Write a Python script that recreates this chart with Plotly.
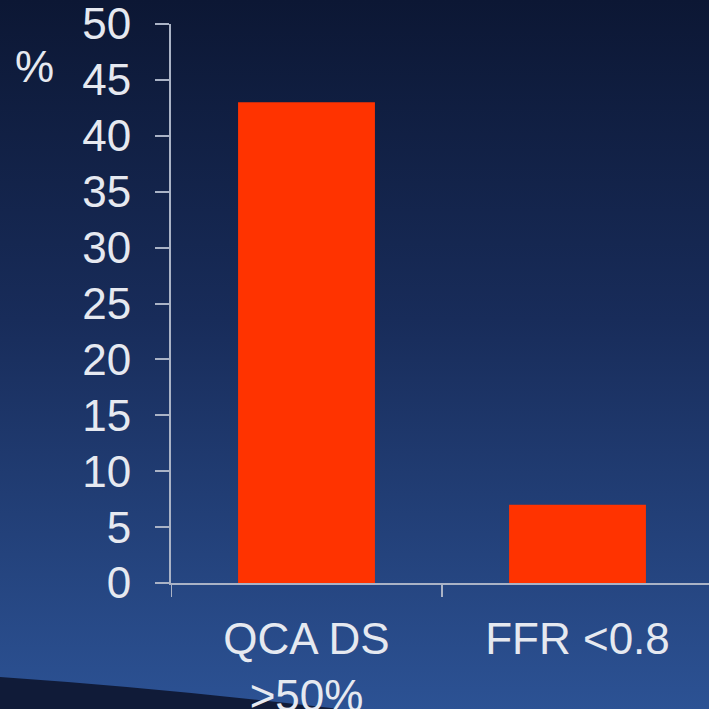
import base64
import plotly.graph_objects as go

# Data
categories = ["QCA DS<br>>50%", "FFR &lt;0.8"]
values = [43, 7]
y_ticks = list(range(0, 55, 5))

W = H = 709
M_L, M_R, M_T, M_B = 171, 0, 24, 126
plot_w = W - M_L - M_R
plot_h = H - M_T - M_B

# Slide-style backdrop: vertical navy gradient with a dark swoosh bottom-left
svg = f"""<svg xmlns="http://www.w3.org/2000/svg" width="{W}" height="{H}" viewBox="0 0 {W} {H}" preserveAspectRatio="none">
<defs><linearGradient id="g" x1="0" y1="0" x2="0" y2="1">
<stop offset="0" stop-color="#0c1734"/>
<stop offset="0.45" stop-color="#182c5a"/>
<stop offset="1" stop-color="#2c5294"/>
</linearGradient></defs>
<rect width="{W}" height="{H}" fill="url(#g)"/>
<path d="M0,677 Q160,688 340,709 L0,709 Z" fill="#101b38"/>
</svg>"""
bg_uri = "data:image/svg+xml;base64," + base64.b64encode(svg.encode()).decode()

axis_col = "#aab3c6"
text_col = "#e6e9f0"
font_family = "Arial, Liberation Sans, sans-serif"

fig = go.Figure(
    go.Bar(
        x=[0, 1],
        y=values,
        width=0.505,
        marker=dict(color="#ff3300", line=dict(width=0)),
    )
)

fig.update_layout(
    width=W,
    height=H,
    margin=dict(l=M_L, r=M_R, t=M_T, b=M_B, autoexpand=False),
    paper_bgcolor="#1b3060",
    plot_bgcolor="rgba(0,0,0,0)",
    showlegend=False,
    images=[
        dict(
            source=bg_uri,
            xref="paper",
            yref="paper",
            x=-M_L / plot_w,
            y=1 + M_T / plot_h,
            sizex=W / plot_w,
            sizey=H / plot_h,
            xanchor="left",
            yanchor="top",
            sizing="stretch",
            layer="below",
        )
    ],
    annotations=[
        dict(
            text="%",
            xref="paper",
            yref="paper",
            x=-(M_L - 13) / plot_w,
            y=1 - (67 - M_T) / plot_h,
            xanchor="left",
            yanchor="middle",
            showarrow=False,
            font=dict(family=font_family, size=44, color=text_col),
        )
    ],
)

fig.update_xaxes(
    type="linear",
    automargin=False,
    range=[-0.5, -0.5 + plot_w / 271],
    tickmode="array",
    tickvals=[0, 1],
    ticktext=categories,
    showgrid=False,
    zeroline=False,
    showline=True,
    linecolor=axis_col,
    linewidth=2,
    ticks="",
    tickfont=dict(family=font_family, size=44, color=text_col),
    ticklabelstandoff=16,
    ticklabeloverflow="allow",
)

fig.update_yaxes(
    automargin=False,
    range=[0, 50],
    tickmode="array",
    tickvals=y_ticks,
    showgrid=False,
    zeroline=False,
    showline=True,
    linecolor=axis_col,
    linewidth=2,
    ticks="outside",
    ticklen=14,
    tickwidth=2,
    tickcolor=axis_col,
    tickfont=dict(family=font_family, size=44, color=text_col),
    ticklabelstandoff=15,
    ticklabeloverflow="allow",
)

# Category boundary ticks on the x axis
for xb in [-0.5, 0.5]:
    fig.add_shape(
        type="line",
        xref="x",
        yref="paper",
        x0=xb,
        x1=xb,
        y0=0,
        y1=-14 / plot_h,
        line=dict(color=axis_col, width=2),
    )

fig.write_html("out.html")
